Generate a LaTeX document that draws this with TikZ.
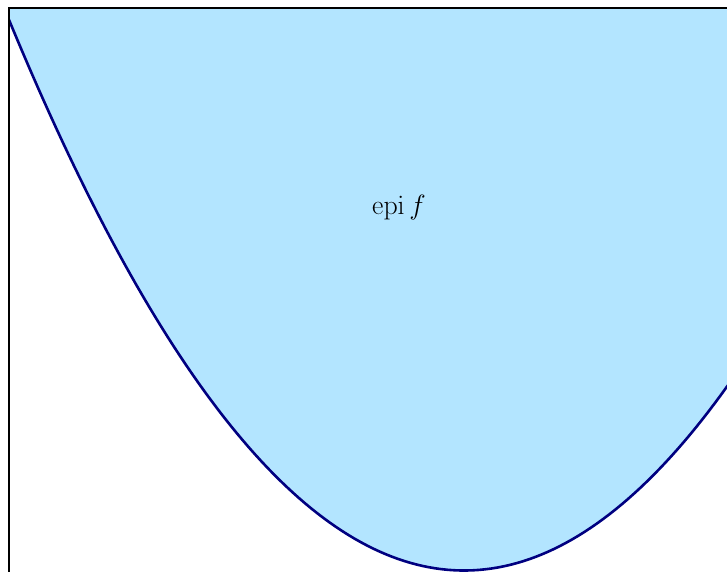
\documentclass[tikz,border=0pt]{standalone}
\usepackage{amsmath}
\usepackage{tikz}
\definecolor{epifill}{RGB}{179,229,255}
\definecolor{epicurve}{RGB}{0,0,128}
\tikzset{
  curveline/.style={epicurve, line width=2.6pt},
  frameline/.style={black, line width=1.1pt},
}
\begin{document}
\begin{tikzpicture}[x=1pt, y=-1pt]
    \useasboundingbox (0,0) rectangle (727,571);
    % Epigraphe
    \begin{scope}
        \clip (9,8) rectangle (740,590);
        \fill[epifill] plot[domain=0:740, samples=120] (\x, {570.5 - 26.6*((\x-464)/100)^2}) -- (740,0) -- (0,0) -- cycle;
        \draw[curveline] plot[domain=0:740, samples=120] (\x, {570.5 - 26.6*((\x-464)/100)^2});
    \end{scope}
    % Cadre
    \draw[frameline] (9,590) -- (9,8) -- (740,8);
    % Etiquette
    \node[scale=1.12] (epi) at (399,208) {\fontsize{24.88}{30}\selectfont $\operatorname{epi} f$};
\end{tikzpicture}
\end{document}
